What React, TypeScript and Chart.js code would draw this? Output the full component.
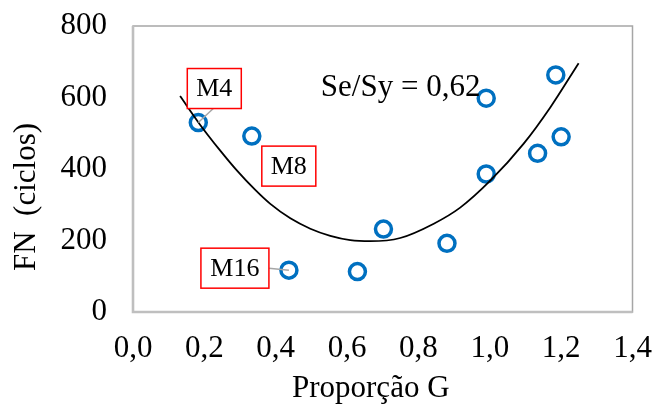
import React, { useEffect, useRef } from "react";
import { Chart, registerables } from "chart.js";

Chart.register(...registerables);

// ---- data ----
const pointX = [0.183, 0.333, 0.437, 0.629, 0.702, 0.88, 0.99, 0.99, 1.134, 1.185, 1.2];
const pointY = [530, 492, 117, 113, 232, 192, 598, 386, 444, 663, 490];

const trendX = [0.132, 0.188, 0.244, 0.291, 0.342, 0.384, 0.441, 0.497, 0.553, 0.609, 0.665, 0.749, 0.843, 0.917, 1.002, 1.095, 1.17, 1.249];
const trendY = [604, 524, 452, 396, 342, 303, 262, 233, 213, 201, 198, 207, 247, 292, 368, 471, 573, 696];

const xTicks = [0, 0.2, 0.4, 0.6, 0.8, 1.0, 1.2, 1.4];
const yTicks = [0, 200, 400, 600, 800];

const labelNames = ["M4", "M8", "M16"];
const labelPointIndex = [0, 1, 2];

const xTitle = "Proporção G";
const yTitle = "FN  (ciclos)";
const ratioText = "Se/Sy = 0,62";

// ---- styling / layout ----
const FONT = "'Liberation Serif', 'Times New Roman', serif";
const BLUE = "#0070C0";
// box center offsets from the labelled point (px)
const labelLayout = [
  { dx: 16, dy: -34, w: 54, h: 40, leader: true },
  { dx: 37, dy: 30, w: 54, h: 40, leader: false },
  { dx: -54, dy: -2, w: 68, h: 40, leader: true },
];

const decorPlugin = {
  id: "decor",
  beforeDatasetsDraw(chart: any) {
    const { ctx, chartArea: a } = chart;
    ctx.save();
    ctx.strokeStyle = "#A6A6A6";
    ctx.lineWidth = 1.5;
    ctx.strokeRect(a.left, a.top, a.right - a.left, a.bottom - a.top);
    ctx.strokeStyle = "#BFBFBF";
    ctx.lineWidth = 2.6;
    ctx.beginPath();
    ctx.moveTo(a.left, a.top);
    ctx.lineTo(a.left, a.bottom);
    ctx.lineTo(a.right, a.bottom);
    ctx.stroke();
    ctx.restore();
  },
  afterDatasetsDraw(chart: any) {
    const { ctx, scales, chartArea: a } = chart;
    const xs = scales.x;
    const ys = scales.y;
    ctx.save();
    labelNames.forEach((name, i) => {
      const idx = labelPointIndex[i];
      const px = xs.getPixelForValue(pointX[idx]);
      const py = ys.getPixelForValue(pointY[idx]);
      const L = labelLayout[i];
      const cx = px + L.dx;
      const cy = py + L.dy;
      const left = cx - L.w / 2;
      const top = cy - L.h / 2;
      if (L.leader) {
        ctx.strokeStyle = "#A6A6A6";
        ctx.lineWidth = 1.5;
        ctx.beginPath();
        if (Math.abs(L.dy) > L.h / 2) {
          ctx.moveTo(cx - 1, top + L.h);
        } else {
          ctx.moveTo(left + L.w, cy);
        }
        ctx.lineTo(px, py);
        ctx.stroke();
      }
      ctx.fillStyle = "#FFFFFF";
      ctx.fillRect(left, top, L.w, L.h);
      ctx.strokeStyle = "#FF0000";
      ctx.lineWidth = 1.5;
      ctx.strokeRect(left, top, L.w, L.h);
      ctx.fillStyle = "#000000";
      ctx.font = `26px ${FONT}`;
      ctx.textAlign = "center";
      ctx.textBaseline = "middle";
      ctx.fillText(name, cx, cy + 1);
    });

    // ratio text
    ctx.fillStyle = "#000000";
    ctx.font = `31px ${FONT}`;
    ctx.textAlign = "center";
    ctx.textBaseline = "alphabetic";
    ctx.fillText(ratioText, xs.getPixelForValue(0.75), ys.getPixelForValue(600) - 2);

    // axis titles
    const midX = (a.left + a.right) / 2;
    const midY = (a.top + a.bottom) / 2;
    ctx.fillText(xTitle, midX - 12, 397);
    ctx.save();
    ctx.translate(35, midY + 28);
    ctx.rotate(-Math.PI / 2);
    ctx.fillText(yTitle, 0, 0);
    ctx.restore();
    ctx.restore();
  },
};

export default function App() {
  const ref = useRef<HTMLCanvasElement | null>(null);
  useEffect(() => {
    if (!ref.current) return;
    const chart = new Chart(ref.current, {
      type: "scatter",
      data: {
        datasets: [
          {
            type: "scatter",
            data: pointX.map((x, i) => ({ x, y: pointY[i] })),
            pointStyle: "circle",
            pointRadius: 8,
            pointBorderWidth: 3.5,
            borderColor: BLUE,
            backgroundColor: "rgba(0,0,0,0)",
            order: 2,
          },
          {
            type: "line",
            data: trendX.map((x, i) => ({ x, y: trendY[i] })),
            borderColor: "#000000",
            borderWidth: 1.8,
            pointRadius: 0,
            cubicInterpolationMode: "monotone",
            fill: false,
            order: 1,
          } as any,
        ],
      },
      options: {
        animation: false,
        responsive: true,
        maintainAspectRatio: false,
        layout: { padding: { left: 0, right: 21.5, top: 26, bottom: 0 } },
        plugins: { legend: { display: false }, tooltip: { enabled: false } },
        scales: {
          x: {
            type: "linear",
            min: 0,
            max: 1.4,
            afterFit: (s: any) => {
              s.height = 93;
              s.paddingLeft = 0;
              s.paddingRight = 0;
            },
            afterBuildTicks: (s: any) => {
              s.ticks = xTicks.map((v) => ({ value: v }));
            },
            grid: { display: false, drawTicks: false },
            border: { display: false },
            ticks: {
              color: "#000000",
              font: { family: FONT, size: 31 },
              padding: 18,
              maxRotation: 0,
              callback: (v: any) => Number(v).toFixed(1).replace(".", ","),
            },
          },
          y: {
            type: "linear",
            min: 0,
            max: 800,
            afterFit: (s: any) => {
              s.width = 133;
              s.paddingTop = 0;
              s.paddingBottom = 0;
            },
            afterBuildTicks: (s: any) => {
              s.ticks = yTicks.map((v) => ({ value: v }));
            },
            grid: { display: false, drawTicks: false },
            border: { display: false },
            ticks: {
              color: "#000000",
              font: { family: FONT, size: 31 },
              padding: 26,
              callback: (v: any) => String(v),
            },
          },
        },
      },
      plugins: [decorPlugin],
    });
    return () => chart.destroy();
  }, []);
  return (
    <div style={{ position: "fixed", left: 0, top: 0, width: 654, height: 405, background: "#fff" }}>
      <canvas ref={ref} />
    </div>
  );
}
